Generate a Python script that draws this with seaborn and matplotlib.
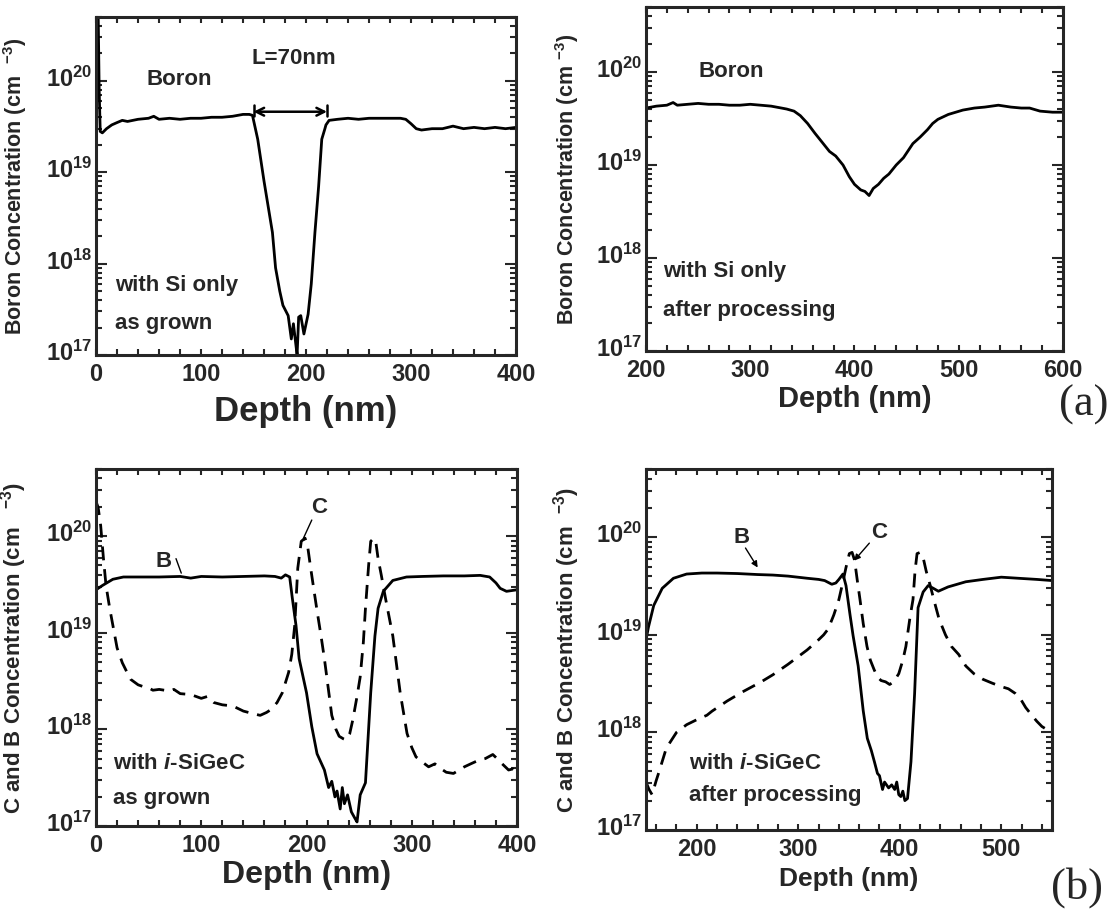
import math
import matplotlib
matplotlib.use('Agg')
import matplotlib.pyplot as plt
import matplotlib.transforms as mtransforms
import seaborn as sns
from matplotlib.ticker import MultipleLocator, LogLocator, FuncFormatter, NullFormatter

sns.set_style('ticks')
plt.rcParams['font.family'] = ['Liberation Sans', 'DejaVu Sans']
plt.rcParams['font.weight'] = 'bold'
plt.rcParams['mathtext.fontset'] = 'custom'
plt.rcParams['mathtext.rm'] = 'Liberation Sans:bold'
plt.rcParams['mathtext.bf'] = 'Liberation Sans:bold'
plt.rcParams['mathtext.it'] = 'Liberation Sans:bold:italic'

# (a) left: boron, Si only, as grown
a1_depth = [0, 2, 3, 4, 6, 10, 15, 20, 25, 30, 40, 50, 55, 60, 70, 80, 90, 100, 110, 120, 130,
            140, 146, 149, 154, 160, 168, 171, 175, 178, 183, 186, 188, 190, 191.5, 193, 195,
            198, 202, 205, 208.5, 212, 215, 218, 219, 222, 230, 240, 250, 260, 270, 280, 290,
            295, 300, 305, 310, 320, 330, 340, 350, 360, 370, 380, 390, 400]
a1_boron = [6e20, 6e20, 8e19, 2.8e19, 2.7e19, 3.0e19, 3.3e19, 3.5e19, 3.7e19, 3.6e19, 3.8e19,
            3.9e19, 4.1e19, 3.8e19, 3.9e19, 3.8e19, 3.9e19, 3.9e19, 4.0e19, 4.0e19, 4.1e19,
            4.3e19, 4.3e19, 4.2e19, 2.3e19, 8e18, 2.2e18, 9e17, 5e17, 3.5e17, 2.7e17, 1.5e17,
            2.2e17, 1.4e17, 1.0e17, 2.6e17, 2.7e17, 1.7e17, 2.8e17, 6e17, 2.2e18, 7e18, 2.3e19,
            3.0e19, 3.3e19, 3.7e19, 3.8e19, 3.9e19, 3.8e19, 3.9e19, 3.9e19, 3.9e19, 3.9e19,
            3.8e19, 3.4e19, 3.0e19, 2.9e19, 3.0e19, 3.0e19, 3.2e19, 3.0e19, 3.1e19, 3.0e19,
            3.1e19, 3.0e19, 3.1e19]

# (a) right: boron, Si only, after processing
a2_depth = [200, 210, 220, 226, 230, 240, 250, 260, 270, 280, 290, 300, 310, 320, 330, 335, 342,
            348, 355, 362, 370, 376, 382, 389, 395, 400, 406, 410, 414, 418, 423, 428, 433, 440,
            447, 456, 463, 470, 475, 480, 490, 504, 515, 525, 538, 550, 560, 568, 578, 590, 600]
a2_boron = [4.1e19, 4.3e19, 4.4e19, 4.7e19, 4.4e19, 4.5e19, 4.6e19, 4.5e19, 4.5e19, 4.4e19,
            4.4e19, 4.5e19, 4.4e19, 4.3e19, 4.1e19, 4.0e19, 3.8e19, 3.4e19, 2.8e19, 2.2e19,
            1.7e19, 1.4e19, 1.25e19, 1.0e19, 7.5e18, 6.2e18, 5.4e18, 5.2e18, 4.7e18, 5.6e18,
            6.2e18, 7.2e18, 8.0e18, 1.0e19, 1.2e19, 1.7e19, 2.0e19, 2.4e19, 2.8e19, 3.1e19,
            3.5e19, 3.9e19, 4.1e19, 4.2e19, 4.4e19, 4.2e19, 4.1e19, 4.1e19, 3.8e19, 3.7e19, 3.7e19]

# (b) left: i-SiGeC, as grown
b1_depth_B = [0, 6, 16, 26, 40, 60, 80, 90, 100, 120, 140, 160, 170, 176, 180, 184, 186.5, 190,
              193, 200, 205, 210, 217, 221, 224, 227, 229, 232, 234, 236, 239, 242.6, 246, 248,
              251, 256, 258, 261, 265, 268, 273, 282, 295, 310, 330, 350, 365, 374, 380, 384,
              390, 400]
b1_boron = [2.8e19, 3.1e19, 3.6e19, 3.8e19, 3.8e19, 3.8e19, 3.85e19, 3.7e19, 3.85e19, 3.8e19,
            3.85e19, 3.9e19, 3.85e19, 3.7e19, 4.0e19, 3.8e19, 2.3e19, 1.2e19, 5.4e18, 2.4e18,
            1.07e18, 5.6e17, 3.8e17, 2.5e17, 2.9e17, 2.0e17, 2.3e17, 1.5e17, 2.5e17, 1.7e17,
            2.1e17, 1.4e17, 1.2e17, 1.1e17, 2.1e17, 2.8e17, 6.6e17, 2.4e18, 9.3e18, 1.8e19,
            2.7e19, 3.5e19, 3.8e19, 3.85e19, 3.9e19, 3.9e19, 3.95e19, 3.8e19, 3.3e19, 2.9e19,
            2.7e19, 2.8e19]
b1_depth_C = [0, 2, 4.4, 7, 9.5, 13, 16, 20, 25, 30, 33, 40, 44, 50, 54, 60, 70, 74, 80, 90,
              100, 106, 112, 120, 130, 140, 150, 156, 162, 166, 172, 177, 183, 186, 188.8, 191.7,
              195, 198.6, 201, 203.6, 207, 210, 214, 217, 221, 224, 228, 231, 235, 237.6, 241,
              244, 248, 251, 254, 256, 259, 261, 264, 266, 268, 271, 275, 282, 289, 295.5, 300,
              304, 310, 316, 322, 328, 332.8, 339.6, 345, 350, 356, 363.6, 370, 377, 381, 385,
              392, 396, 400]
b1_carbon = [2.3e20, 2.0e20, 1.3e20, 6e19, 3.1e19, 1.8e19, 1.2e19, 7e18, 4.9e18, 3.8e18, 3.3e18,
             2.9e18, 2.8e18, 2.7e18, 2.55e18, 2.6e18, 2.5e18, 2.6e18, 2.35e18, 2.3e18, 2.1e18,
             2.2e18, 1.9e18, 1.8e18, 1.75e18, 1.55e18, 1.45e18, 1.4e18, 1.5e18, 1.6e18, 1.9e18,
             2.4e18, 3.9e18, 6e18, 1.2e19, 4.7e19, 8.9e19, 9.6e19, 8e19, 5e19, 2.8e19, 1.7e19,
             9e18, 5.4e18, 2.5e18, 1.4e18, 1.0e18, 8.5e17, 8.0e17, 7.8e17, 9e17, 1.26e18, 2.2e18,
             3.5e18, 8e18, 1.8e19, 5e19, 8.9e19, 9.6e19, 8.5e19, 5.9e19, 4.0e19, 2.3e19, 9.3e18,
             2.4e18, 9.1e17, 6.5e17, 5.2e17, 4.6e17, 4.1e17, 4.4e17, 3.9e17, 3.6e17, 3.5e17,
             3.8e17, 4.1e17, 4.4e17, 4.8e17, 5.0e17, 5.5e17, 5.0e17, 4.5e17, 3.8e17, 3.9e17, 3.4e17]

# (b) right: i-SiGeC, after processing
b2_depth_B = [150, 152.4, 157.6, 166, 177, 190, 205, 220, 240, 260, 275, 290, 309, 320, 326, 333,
              337, 340, 344, 347, 351, 354, 359, 364, 368, 372, 375, 378, 380, 383, 385, 389, 392,
              395, 397, 399, 401, 403, 405, 407.6, 409, 411, 414.6, 418, 423, 428, 433, 438,
              447.6, 465, 482, 500, 517, 535, 550]
b2_boron = [8.9e18, 1.2e19, 2.0e19, 3.0e19, 3.8e19, 4.2e19, 4.3e19, 4.3e19, 4.25e19, 4.15e19,
            4.1e19, 4.0e19, 3.8e19, 3.7e19, 3.6e19, 3.3e19, 3.4e19, 3.7e19, 4.2e19, 3.2e19,
            1.6e19, 9.8e18, 4.8e18, 1.66e18, 8.7e17, 6.5e17, 5.0e17, 3.8e17, 3.6e17, 2.6e17,
            3.1e17, 2.7e17, 2.9e17, 2.6e17, 3.1e17, 2.3e17, 2.2e17, 2.5e17, 2.0e17, 2.1e17,
            3e17, 5.0e17, 2.5e18, 1.9e19, 2.75e19, 3.2e19, 3.0e19, 2.8e19, 3.1e19, 3.5e19,
            3.7e19, 3.9e19, 3.8e19, 3.7e19, 3.6e19]
b2_depth_C = [150, 153, 156, 160, 163, 170, 180, 190, 200, 210, 215, 230, 245, 263.5, 275, 290,
              308.7, 319, 325, 329.5, 335, 340, 344, 347, 350.3, 353, 355.5, 358, 360.8, 364,
              367.7, 371, 374.7, 378, 381.6, 386, 390, 394, 399, 403, 406, 410, 413, 415, 417,
              420, 423, 426, 430, 434, 438.7, 445, 450.9, 458, 465, 473, 482, 491, 500, 507, 514,
              519, 524, 530, 535, 540, 543]
b2_carbon = [3.1e17, 2.6e17, 2.3e17, 3.2e17, 4.0e17, 6.9e17, 1.0e18, 1.2e18, 1.35e18, 1.5e18,
             1.65e18, 2.1e18, 2.6e18, 3.3e18, 3.9e18, 5.0e18, 7.0e18, 8.7e18, 1.0e19, 1.15e19,
             1.6e19, 2.3e19, 3.5e19, 4.9e19, 6.8e19, 7e19, 5.8e19, 3.7e19, 2.3e19, 1.3e19,
             7.6e18, 5.5e18, 4.4e18, 3.7e18, 3.4e18, 3.3e18, 3.1e18, 3.3e18, 4.0e18, 5.5e18,
             7.6e18, 1.5e19, 2.3e19, 4.5e19, 6.8e19, 7.0e19, 6.2e19, 4.5e19, 3.2e19, 2.2e19,
             1.45e19, 1.0e19, 7.6e18, 6.3e18, 4.8e18, 4.0e18, 3.5e18, 3.2e18, 2.95e18, 2.8e18,
             2.5e18, 2.2e18, 1.8e18, 1.5e18, 1.3e18, 1.15e18, 1.1e18]

fig = plt.figure(figsize=(11.14, 9.16), dpi=100)
ax1 = fig.add_axes([0.0862, 0.6124, 0.377, 0.369])
ax2 = fig.add_axes([0.5799, 0.6168, 0.3743, 0.3755])
ax3 = fig.add_axes([0.0862, 0.0983, 0.3779, 0.3897])
ax4 = fig.add_axes([0.5799, 0.0939, 0.3645, 0.394])

LW = 2.0
dash = (0, (5, 3.2))


def decade_label(v, pos):
    return r'$\mathbf{10^{%d}}$' % int(round(math.log10(v)))


def style(ax, xmin, xmax, xticks, ylabel, ylabel_size, xlabel_size, xlabel_pad, ylabel_x):
    ax.set_yscale('log')
    ax.set_ylim(1e17, 5e20)
    ax.set_xlim(xmin, xmax)
    ax.set_xticks(xticks)
    ax.xaxis.set_minor_locator(MultipleLocator(20))
    ax.yaxis.set_major_locator(LogLocator(base=10, numticks=10))
    ax.yaxis.set_minor_locator(LogLocator(base=10, subs=range(2, 10), numticks=20))
    ax.yaxis.set_major_formatter(FuncFormatter(decade_label))
    ax.yaxis.set_minor_formatter(NullFormatter())
    ax.tick_params(which='both', direction='in', top=True, right=True, width=1.5,
                   labelsize=17)
    ax.tick_params(axis='x', which='both', length=4, pad=6)
    ax.tick_params(axis='y', which='major', length=8, pad=3)
    ax.tick_params(axis='y', which='minor', length=4)
    for s in ax.spines.values():
        s.set_linewidth(2.2)
        s.set_visible(True)
    ax.set_xlabel('Depth (nm)', fontsize=xlabel_size, fontweight='bold', labelpad=xlabel_pad)
    ax.set_ylabel(ylabel, fontsize=ylabel_size, fontweight='bold')
    ax.yaxis.set_label_coords(ylabel_x, 0.5)


# panel (a) left
sns.lineplot(x=a1_depth, y=a1_boron, ax=ax1, color='black', linewidth=LW, estimator=None)
style(ax1, 0, 400, [0, 100, 200, 300, 400], r'Boron Concentration (cm  $^{-3}$)',
      15.5, 25, 6, -0.16)
ax1.text(48, 10**20.02, 'Boron', fontsize=16, va='center')
ax1.text(188, 10**20.24, 'L=70nm', fontsize=16, ha='center', va='center')
ax1.annotate('', xy=(150, 4.6e19), xytext=(220, 4.6e19),
             arrowprops=dict(arrowstyle='<->', lw=1.8, color='black', shrinkA=0, shrinkB=0,
                             mutation_scale=14))
ax1.plot([150, 150], [4.1e19, 5.5e19], color='black', lw=1.8)
ax1.plot([220, 220], [4.1e19, 5.5e19], color='black', lw=1.8)
ax1.text(18, 10**17.76, 'with Si only', fontsize=16, va='center')
ax1.text(18, 10**17.35, 'as grown', fontsize=16, va='center')

# panel (a) right
sns.lineplot(x=a2_depth, y=a2_boron, ax=ax2, color='black', linewidth=LW, estimator=None)
style(ax2, 200, 600, [200, 300, 400, 500, 600], r'Boron Concentration (cm $^{-3}$)',
      15.5, 21, 2, -0.157)
ax2.text(250, 10**20.01, 'Boron', fontsize=16, va='center')
ax2.text(216, 10**17.86, 'with Si only', fontsize=16, va='center')
ax2.text(216, 10**17.44, 'after processing', fontsize=16, va='center')

# panel (b) left
sns.lineplot(x=b1_depth_B, y=b1_boron, ax=ax3, color='black', linewidth=LW, estimator=None)
sns.lineplot(x=b1_depth_C, y=b1_carbon, ax=ax3, color='black', linewidth=LW, estimator=None,
             linestyle=dash)
style(ax3, 0, 400, [0, 100, 200, 300, 400], r'C and B Concentration (cm   $^{-3}$)',
      16, 23, 2, -0.16)
ax3.text(64, 10**19.74, 'B', fontsize=16, ha='center', va='center')
ax3.plot([76, 81], [10**19.77, 10**19.62], color='black', lw=1)
ax3.text(212, 10**20.30, 'C', fontsize=16, ha='center', va='center')
ax3.plot([205, 197], [10**20.17, 10**19.98], color='black', lw=1)
ax3.text(16, 10**17.65, r'with $\mathit{i}$-SiGeC', fontsize=16, va='center')
ax3.text(16, 10**17.28, 'as grown', fontsize=16, va='center')

# panel (b) right
sns.lineplot(x=b2_depth_B, y=b2_boron, ax=ax4, color='black', linewidth=LW, estimator=None)
sns.lineplot(x=b2_depth_C, y=b2_carbon, ax=ax4, color='black', linewidth=LW, estimator=None,
             linestyle=dash)
style(ax4, 150, 550, [200, 300, 400, 500], r'C and B Concentration (cm  $^{-3}$)',
      16, 19, 4, -0.158)
ax4.text(244, 10**20.0, 'B', fontsize=16, ha='center', va='center')
ax4.annotate('', xy=(260, 10**19.69), xytext=(248, 10**19.89),
             arrowprops=dict(arrowstyle='-|>', lw=1, color='black', mutation_scale=9,
                             shrinkA=0, shrinkB=0))
ax4.text(380, 10**20.05, 'C', fontsize=16, ha='center', va='center')
ax4.annotate('', xy=(355, 10**19.76), xytext=(370, 10**19.94),
             arrowprops=dict(arrowstyle='-|>', lw=1, color='black', mutation_scale=9,
                             shrinkA=0, shrinkB=0))
ax4.text(192, 10**17.68, r'with $\mathit{i}$-SiGeC', fontsize=16, va='center')
ax4.text(192, 10**17.35, 'after processing', fontsize=16, va='center')

fig.text(0.995, 1 - 405 / 916, '(a)', fontsize=32, family='Liberation Serif',
         fontweight='normal', ha='right', va='center')
fig.text(0.99, 1 - 888 / 916, '(b)', fontsize=32, family='Liberation Serif',
         fontweight='normal', ha='right', va='center')

# raise the decade labels a little so that "10" sits on the tick like the original
fig.canvas.draw()
lift = mtransforms.ScaledTranslation(0, 3 / 72, fig.dpi_scale_trans)
for ax in (ax1, ax2, ax3, ax4):
    for lab in ax.get_yticklabels():
        lab.set_transform(lab.get_transform() + lift)

fig.savefig('out.png', dpi=100, facecolor='white')
